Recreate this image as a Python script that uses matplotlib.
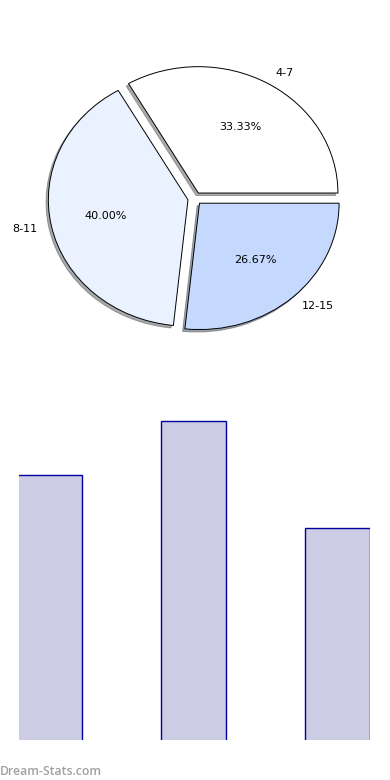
import matplotlib
matplotlib.use("Agg")
from matplotlib import pyplot as plt

# donnees
categories = ["4-7", "8-11", "12-15"]
counts = [5, 6, 4]
pie_colors = ["#FFFFFF", "#EBF2FF", "#C5D9FF"]

fig = plt.figure(figsize=(3.9, 7.8), dpi=100)

# camembert (pas d'aspect egal : ellipse comme l'original)
ax1 = fig.add_axes([0.052, 0.543, 0.895, 0.405])
ax1.pie(counts, labels=categories, colors=pie_colors, autopct="%.2f%%",
        explode=[0.05, 0.05, 0.05],
        shadow={"ox": -0.012, "oy": -0.014, "shade": 0.65},
        startangle=0,
        wedgeprops={"edgecolor": "black", "linewidth": 0.7},
        textprops={"fontsize": 8})
ax1.set_aspect("auto")
ax1.set_xlim(-1.25, 1.25)
ax1.set_ylim(-1.25, 1.25)

# barres
ax2 = fig.add_axes([0.049, 0.0513, 0.900, 0.436])
x = range(len(counts))
ax2.bar(x, counts, width=0.45, color="#CCCCE5", edgecolor="#0000A0", linewidth=1)
ax2.set_xlim(-0.212, 2.225)
ax2.set_ylim(0.02, 6.4)
ax2.axis("off")

fig.text(0.0, 0.007, "Dream-Stats.com", color="#a0a0a0", fontsize=8.8,
         family=["Open Sans", "DejaVu Sans"], fontweight="semibold")

fig.savefig("out.png", dpi=100)
